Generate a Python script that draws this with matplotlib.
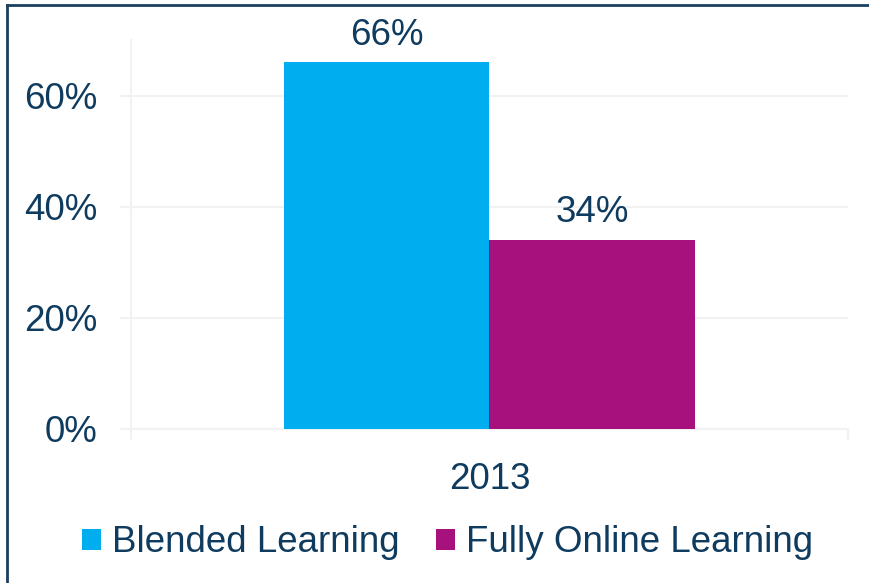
import matplotlib.pyplot as plt
from matplotlib.patches import Patch
from matplotlib.lines import Line2D

# Datos
categorias = ['2013']
series = ['Blended Learning', 'Fully Online Learning']
valores = [0.66, 0.34]
colores = ['#00ADEF', '#A6117E']
ticks_y = [0, 0.2, 0.4, 0.6]
etiquetas_y = ['0%', '20%', '40%', '60%']

texto = '#0F3B5F'
gris = '#F2F2F2'
tam = 26.5

plt.rcParams['font.family'] = ['Liberation Sans', 'DejaVu Sans']

fig = plt.figure(figsize=(8.69, 5.83), dpi=100)
ax = fig.add_axes([131 / 869, 1 - 429 / 583, (848 - 131) / 869, (429 - 40) / 583])

ancho = 0.286
desplaz = [-ancho / 2, ancho / 2]
for i, (serie, v) in enumerate(zip(series, valores)):
    ax.bar(0 + desplaz[i], v, width=ancho, color=colores[i], label=serie, zorder=3)
    ax.annotate(f'{v * 100:.0f}%', (0 + desplaz[i], v), xytext=(0, 7),
                textcoords='offset points', ha='center', va='bottom',
                fontsize=tam, color=texto)

ax.set_xlim(-0.5, 0.5)
ax.set_ylim(0, 0.70)
ax.set_yticks(ticks_y)
ax.set_yticklabels(etiquetas_y)
ax.set_xticks([0])
ax.set_xticklabels(categorias)
ax.set_xticks([-0.5, 0.5], minor=True)

ax.grid(axis='y', color=gris, linewidth=1.5, zorder=0)
for lado in ['top', 'right']:
    ax.spines[lado].set_visible(False)
for lado in ['left', 'bottom']:
    ax.spines[lado].set_color(gris)
    ax.spines[lado].set_linewidth(1.5)

ax.tick_params(axis='y', length=8, width=1.5, color=gris, pad=16,
               labelsize=tam, labelcolor=texto)
ax.tick_params(axis='x', which='major', length=0, pad=24,
               labelsize=tam, labelcolor=texto)
ax.tick_params(axis='x', which='minor', length=8, width=1.5, color=gris)

handles = [Patch(facecolor=c, label=s) for c, s in zip(colores, series)]
fig.legend(handles=handles, loc='center', bbox_to_anchor=(0.515, 1 - 543 / 583),
           ncol=2, frameon=False, fontsize=tam, labelcolor=texto,
           handlelength=0.5, handleheight=0.5, handletextpad=0.3,
           columnspacing=1.0, borderaxespad=0, borderpad=0)

# Marco (solo izquierda y arriba)
fig.lines.append(Line2D([7 / 869, 7 / 869], [0, 1 - 5 / 583], transform=fig.transFigure,
                        color='#1B3F5E', linewidth=2))
fig.lines.append(Line2D([7 / 869, 1], [1 - 5 / 583, 1 - 5 / 583], transform=fig.transFigure,
                        color='#1B3F5E', linewidth=2))

fig.savefig('out.png', dpi=100)
